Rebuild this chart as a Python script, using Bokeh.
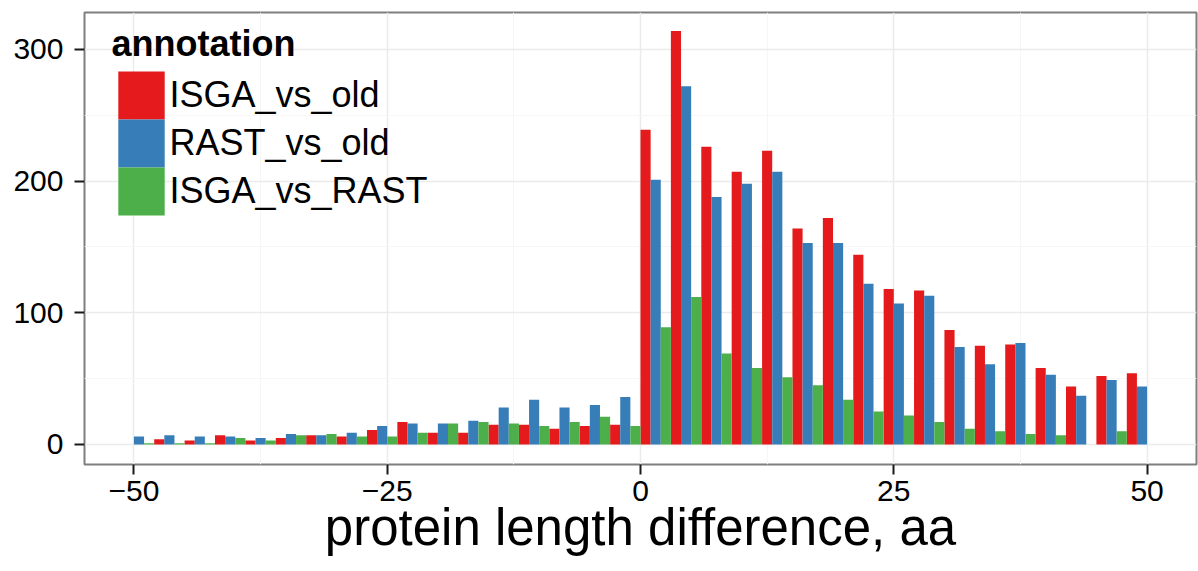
from bokeh.plotting import figure
from bokeh.models import (ColumnDataSource, Legend, LegendItem, FixedTicker, Range1d)
from bokeh.embed import file_html
from bokeh.resources import INLINE

# Histogram of protein length differences (bin width 3 aa), counts per annotation pair
bin_starts = list(range(-51, 49, 3))

isga_vs_old = [0, 4, 3, 7, 3, 5, 7, 6, 11, 17, 9, 9, 15, 15, 12, 14, 15,
               239, 314, 226, 207, 223, 164, 172, 144, 118, 117, 87, 75, 76, 58, 44, 52, 54]
rast_vs_old = [6, 7, 6, 6, 5, 8, 7, 9, 14, 16, 16, 18, 28, 34, 28, 30, 36,
               201, 272, 188, 198, 207, 153, 153, 122, 107, 113, 74, 61, 77, 53, 37, 49, 44]
isga_vs_rast = [1, 1, 1, 5, 3, 7, 8, 6, 6, 9, 16, 17, 16, 14, 17, 21, 14,
                89, 112, 69, 58, 51, 45, 34, 25, 22, 17, 12, 10, 8, 7, 0, 10, 0]

series_names = ["ISGA_vs_old", "RAST_vs_old", "ISGA_vs_RAST"]
series_values = [isga_vs_old, rast_vs_old, isga_vs_rast]
colors = ["#E41A1C", "#377EB8", "#4DAF4A"]

x_ticks = [-50, -25, 0, 25, 50]
y_ticks = [0, 100, 200, 300]

FONT = "Liberation Sans"
BIN_W = 3
FRAME_BOTTOM = 464  # screen y of the plot frame's lower edge

p = figure(width=1198, height=571, output_backend="svg", toolbar_location=None,
           x_range=Range1d(-54.88, 54.88), y_range=Range1d(-15.2, 328.0),
           min_border_left=84, min_border_right=2, min_border_top=12, min_border_bottom=107)

# dodged bars: each bin split in three equal slots
slot = BIN_W / len(series_names)
renderers = []
for i, (name, vals, col) in enumerate(zip(series_names, series_values, colors)):
    src = ColumnDataSource(dict(x=[b + slot * (i + 0.5) for b in bin_starts], top=vals))
    r = p.vbar(x="x", top="top", bottom=0, width=slot, source=src,
               fill_color=col, line_color=None)
    renderers.append(r)

# panel styling
p.background_fill_color = "white"
p.border_fill_color = "white"
p.outline_line_color = "#7F7F7F"
p.outline_line_width = 2

xt = FixedTicker(ticks=x_ticks, minor_ticks=[-37.5, -12.5, 12.5, 37.5])
yt = FixedTicker(ticks=y_ticks, minor_ticks=[50, 150, 250])
p.xaxis.ticker = xt
p.yaxis.ticker = yt
p.xgrid.ticker = xt
p.ygrid.ticker = yt
for g in (p.xgrid, p.ygrid):
    g.grid_line_color = "#EBEBEB"
    g.grid_line_width = 1.5
    g.minor_grid_line_color = "#F6F6F6"
    g.minor_grid_line_width = 1

p.xaxis.major_label_overrides = {-50: "\u221250", -25: "\u221225"}

for ax in (p.xaxis, p.yaxis):
    ax.axis_line_color = None
    ax.major_tick_line_color = "#1a1a1a"
    ax.major_tick_line_width = 2
    ax.major_tick_out = 10
    ax.major_tick_in = 0
    ax.minor_tick_line_color = None
    ax.major_label_text_font = FONT
    ax.major_label_text_font_size = "30px"
    ax.major_label_text_color = "black"

p.xaxis.major_label_standoff = 6
p.yaxis.major_label_standoff = 11

p.xaxis.axis_label = "protein length difference, aa"
p.xaxis.axis_label_text_font = FONT
p.xaxis.axis_label_text_font_size = "51px"
p.xaxis.axis_label_text_font_style = "normal"
p.xaxis.axis_label_text_color = "black"
p.xaxis.axis_label_standoff = -5

# Legend: one box per entry so that the colour keys sit flush on top of each other
KEY_H = 48          # visible key height
GLYPH_H = 60        # legend glyph box (key is inset 10% on each side)
FIRST_KEY_TOP = 71.3
for i, (name, r) in enumerate(zip(series_names, renderers)):
    item_bottom = FIRST_KEY_TOP + KEY_H * (i + 1) + (GLYPH_H - KEY_H) / 2
    kw = dict(
        items=[LegendItem(label=name, renderers=[r])],
        location=(27.5, FRAME_BOTTOM - item_bottom),
        label_text_font=FONT, label_text_font_size="36px", label_text_color="black",
        glyph_width=58, glyph_height=GLYPH_H, label_standoff=0,
        padding=0, margin=0, border_line_color=None, background_fill_alpha=0,
    )
    if i == 0:
        kw.update(title="annotation", title_text_font=FONT, title_text_font_size="36px",
                  title_text_font_style="bold", title_text_color="black", title_standoff=0)
    p.add_layout(Legend(**kw))

open("out.html", "w").write(file_html(p, INLINE))
